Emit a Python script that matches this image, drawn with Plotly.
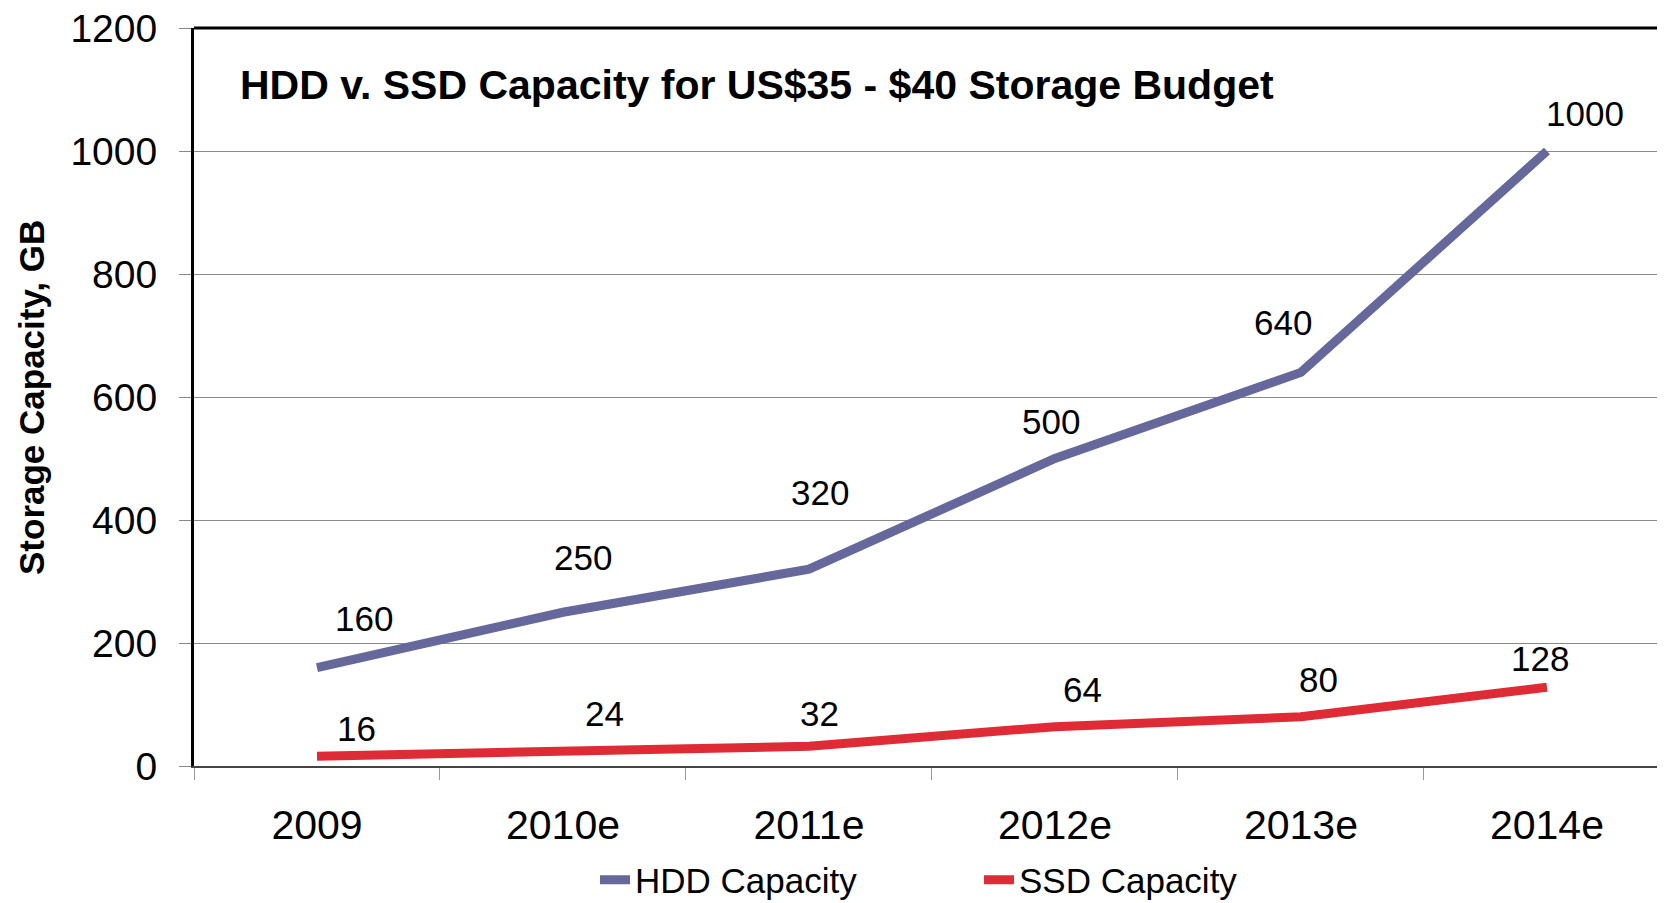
import plotly.graph_objects as go

years = ["2009", "2010e", "2011e", "2012e", "2013e", "2014e"]
hdd_capacity = [160, 250, 320, 500, 640, 1000]
ssd_capacity = [16, 24, 32, 64, 80, 128]
y_ticks = [0, 200, 400, 600, 800, 1000, 1200]

# pixel offsets of each data label relative to its point (label placement style)
hdd_label_shift = [(47, 49), (20, 55), (11, 77), (-4, 37), (-18, 50), (38, 38)]
ssd_label_shift = [(40, 28), (42, 38), (11, 33), (28, 37), (18, 37), (-7, 29)]

FONT = "Liberation Sans, Arial, sans-serif"
HDD_COLOR = "#66679A"
SSD_COLOR = "#DE2B35"

# the html page body has an 8px margin; figure is sized to fit the 1665x903 window
OFF = 8
W, H = 1665 - OFF, 903 - OFF
L, T = 194 - OFF, 28 - OFF
B = H - (766 - OFF)
PW, PH = W - L, H - T - B


def px_x(sx):
    """screen x -> paper x of plot area"""
    return (sx - OFF - L) / PW


def px_y(sy):
    """screen y -> paper y of plot area"""
    return (H - B - (sy - OFF)) / PH


fig = go.Figure()
fig.add_trace(go.Scatter(x=years, y=hdd_capacity, mode="lines", name="HDD Capacity",
                         line=dict(color=HDD_COLOR, width=9)))
fig.add_trace(go.Scatter(x=years, y=ssd_capacity, mode="lines", name="SSD Capacity",
                         line=dict(color=SSD_COLOR, width=9)))

annotations = []
for vals, shifts in ((hdd_capacity, hdd_label_shift), (ssd_capacity, ssd_label_shift)):
    for i, (v, (dx, dy)) in enumerate(zip(vals, shifts)):
        annotations.append(dict(x=i, y=v, xref="x", yref="y", text=str(v), showarrow=False,
                                xshift=dx, yshift=dy, font=dict(family=FONT, size=35, color="black")))

annotations.append(dict(text="<b>HDD v. SSD Capacity for US$35 - $40 Storage Budget</b>",
                        xref="paper", yref="paper", x=px_x(238), y=px_y(85),
                        xanchor="left", yanchor="middle", showarrow=False,
                        font=dict(family=FONT, size=41, color="black")))
annotations.append(dict(text="<b>Storage Capacity, GB</b>", textangle=-90,
                        xref="paper", yref="paper", x=px_x(32), y=px_y(398),
                        xanchor="center", yanchor="middle", showarrow=False,
                        font=dict(family=FONT, size=35, color="black")))

fig.update_layout(
    width=W, height=H,
    margin=dict(l=L, r=0, t=T, b=B, autoexpand=False),
    paper_bgcolor="white", plot_bgcolor="white",
    font=dict(family=FONT, color="black"),
    annotations=annotations,
    showlegend=True,
    legend=dict(orientation="h", x=px_x(595), xanchor="left", y=px_y(880), yanchor="middle",
                font=dict(family=FONT, size=35, color="black"), bgcolor="rgba(0,0,0,0)",
                entrywidth=339, entrywidthmode="pixels", itemwidth=30, tracegroupgap=0),
    shapes=[dict(type="line", xref="paper", yref="paper", x0=0, x1=1, y0=1, y1=1,
                 line=dict(color="black", width=3), layer="above")],
)

fig.update_xaxes(
    type="category", range=[-0.5, 5.48], tickson="boundaries", automargin=False,
    ticks="outside", ticklen=12, tickcolor="#999999", tickwidth=1,
    showline=True, linecolor="#444444", linewidth=2,
    showgrid=False, zeroline=False,
    tickfont=dict(family=FONT, size=41, color="black"), ticklabelstandoff=22,
)
fig.update_yaxes(
    range=[0, 1200], tickvals=y_ticks, ticktext=[str(t) for t in y_ticks], automargin=False,
    ticks="outside", ticklen=12, tickcolor="#888888", tickwidth=1,
    showline=True, linecolor="black", linewidth=3,
    showgrid=True, gridcolor="#8a8a8a", gridwidth=1, zeroline=False,
    tickfont=dict(family=FONT, size=39, color="black"), ticklabelstandoff=14,
    ticklabeloverflow="allow",
)

fig.write_html("out.html")
